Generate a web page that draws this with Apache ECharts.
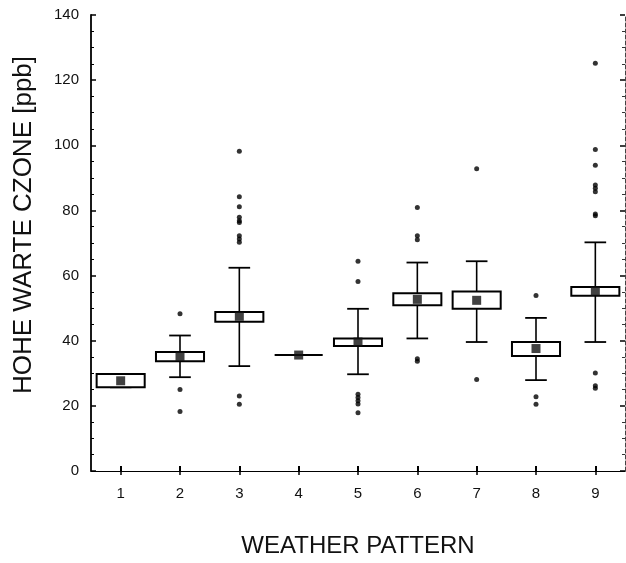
<!DOCTYPE html>
<html>
<head>
<meta charset="utf-8">
<script src="https://cdn.jsdelivr.net/npm/echarts@6/dist/echarts.min.js"></script>
<style>html,body{margin:0;padding:0;background:#fff;}#c{width:626px;height:563px;}</style>
</head>
<body>
<div id="c"></div>
<script>
const categories = ['1','2','3','4','5','6','7','8','9'];
const whiskerLow  = [25.7, 28.8, 32.2, 35.6, 29.7, 40.7, 39.6, 27.9, 39.6];
const q1          = [25.7, 33.7, 45.8, 35.6, 38.4, 50.9, 49.8, 35.3, 53.8];
const q3          = [29.8, 36.5, 48.8, 35.6, 40.7, 54.6, 55.1, 39.6, 56.5];
const whiskerHigh = [29.8, 41.6, 62.4, 35.6, 49.8, 64.0, 64.4, 47.0, 70.2];
const means       = [27.7, 35.2, 47.5, 35.6, 39.6, 52.7, 52.4, 37.6, 55.2];
const outliers = [
  ['2', 48.3], ['2', 25.0], ['2', 18.3],
  ['3', 98.2], ['3', 84.2], ['3', 81.1], ['3', 77.9], ['3', 76.8], ['3', 76.3], ['3', 72.2], ['3', 71.2], ['3', 70.2], ['3', 23.0], ['3', 20.5],
  ['5', 64.4], ['5', 58.2], ['5', 23.6], ['5', 22.6], ['5', 21.6], ['5', 20.6], ['5', 17.9],
  ['6', 80.9], ['6', 72.2], ['6', 71.0], ['6', 34.5], ['6', 33.7],
  ['7', 92.8], ['7', 28.1],
  ['8', 53.9], ['8', 22.8], ['8', 20.5],
  ['9', 125.2], ['9', 98.7], ['9', 93.9], ['9', 87.8], ['9', 86.8], ['9', 85.7], ['9', 78.9], ['9', 78.4], ['9', 30.1], ['9', 26.2], ['9', 25.4]
];
const yTicks = { min: 0, max: 140, interval: 20 };

const boxData = categories.map((c, i) => [i, whiskerLow[i], q1[i], q3[i], whiskerHigh[i]]);
const meanData = categories.map((c, i) => [c, means[i]]);

const FONT = '"Liberation Sans", Arial, sans-serif';

function renderBox(params, api) {
  const idx = api.value(0);
  const band = api.size([1, 0])[0];
  const half = band * 0.405;
  const cap = half * 0.45;
  const pLow = api.coord([idx, api.value(1)]);
  const pQ1 = api.coord([idx, api.value(2)]);
  const pQ3 = api.coord([idx, api.value(3)]);
  const pHigh = api.coord([idx, api.value(4)]);
  const x = pQ1[0];
  const children = [
    { type: 'line', shape: { x1: x, y1: pQ3[1], x2: x, y2: pHigh[1] }, style: { stroke: '#000', lineWidth: 1.6 } },
    { type: 'line', shape: { x1: x, y1: pQ1[1], x2: x, y2: pLow[1] }, style: { stroke: '#000', lineWidth: 1.6 } },
    { type: 'line', shape: { x1: x - cap, y1: pHigh[1], x2: x + cap, y2: pHigh[1] }, style: { stroke: '#000', lineWidth: 1.8 } },
    { type: 'line', shape: { x1: x - cap, y1: pLow[1], x2: x + cap, y2: pLow[1] }, style: { stroke: '#000', lineWidth: 1.8 } },
    { type: 'rect', shape: { x: x - half, y: pQ3[1], width: half * 2, height: pQ1[1] - pQ3[1] }, style: { stroke: '#000', lineWidth: 2, fill: '#fff' } }
  ];
  return { type: 'group', children: children };
}

const chart = echarts.init(document.getElementById('c'), null, { renderer: 'canvas' });
chart.setOption({
  backgroundColor: '#fff',
  animation: false,
  grid: { left: 91, right: 1, top: 15, bottom: 90, containLabel: false },
  xAxis: [
    {
      type: 'category', data: categories, boundaryGap: true, position: 'bottom',
      name: 'WEATHER PATTERN', nameLocation: 'middle', nameGap: 63,
      nameTextStyle: { fontFamily: FONT, fontSize: 24, color: '#111' },
      axisLine: { show: true, lineStyle: { color: '#999', width: 1, type: 'dotted' } },
      axisTick: { show: true, inside: true, alignWithLabel: true, length: 5, lineStyle: { color: '#000', width: 2 } },
      axisLabel: { fontFamily: FONT, fontSize: 15, color: '#111', margin: 15 },
      splitLine: { show: false }
    },
    {
      type: 'category', data: categories, boundaryGap: true, position: 'top',
      axisLine: { show: true, lineStyle: { color: '#000', width: 1.2 } },
      axisTick: { show: true, inside: true, alignWithLabel: true, length: 4, lineStyle: { color: '#000', width: 1.5 } },
      axisLabel: { show: false },
      splitLine: { show: false }
    }
  ],
  yAxis: [
    {
      type: 'value', min: yTicks.min, max: yTicks.max, interval: yTicks.interval, position: 'left',
      name: 'HOHE WARTE CZONE [ppb]', nameLocation: 'middle', nameGap: 54,
      nameTextStyle: { fontFamily: FONT, fontSize: 26, color: '#111', padding: [0, 0, 0, 36] },
      axisLine: { show: true, lineStyle: { color: '#000', width: 1.8 } },
      axisTick: { show: true, inside: true, length: 5, lineStyle: { color: '#000', width: 1.5 } },
      minorTick: { show: true, splitNumber: 4, length: 3, lineStyle: { color: '#000', width: 1 } },
      axisLabel: { fontFamily: FONT, fontSize: 15, color: '#111', margin: 12 },
      splitLine: { show: false }
    },
    {
      type: 'value', min: yTicks.min, max: yTicks.max, interval: yTicks.interval, position: 'right',
      axisLine: { show: true, lineStyle: { color: '#444', width: 1, type: 'dashed' } },
      axisTick: { show: true, inside: true, length: 5, lineStyle: { color: '#000', width: 1.5 } },
      minorTick: { show: true, splitNumber: 4, length: 3, lineStyle: { color: '#333', width: 1 } },
      axisLabel: { show: false },
      splitLine: { show: false }
    }
  ],
  series: [
    {
      type: 'custom', name: 'box', xAxisIndex: 0, yAxisIndex: 0,
      renderItem: renderBox, data: boxData, z: 2,
      encode: { x: 0, y: [1, 2, 3, 4] }
    },
    {
      type: 'scatter', name: 'outliers', xAxisIndex: 0, yAxisIndex: 0,
      data: outliers, symbol: 'circle', symbolSize: 5,
      itemStyle: { color: '#000' }, z: 3
    },
    {
      type: 'scatter', name: 'mean', xAxisIndex: 0, yAxisIndex: 0,
      data: meanData, symbol: 'rect', symbolSize: 9,
      itemStyle: { color: '#111' }, z: 4
    }
  ]
});
</script>
</body>
</html>
